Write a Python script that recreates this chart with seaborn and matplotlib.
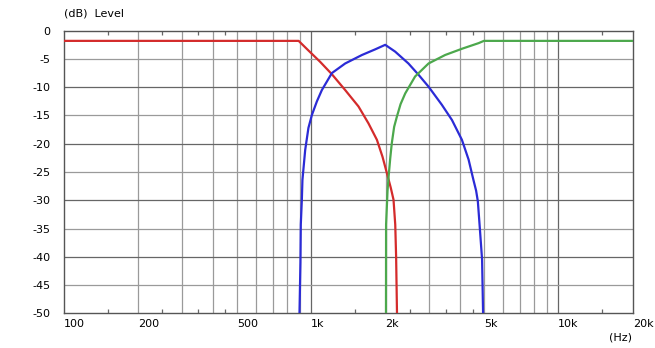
import matplotlib
matplotlib.use("Agg")
import matplotlib.pyplot as plt
import seaborn as sns
import pandas as pd

# ---- data ----
red_freq = [100, 890, 975, 1087, 1213, 1373, 1554, 1706, 1845, 1944, 2025, 2100, 2154, 2189, 2207, 2225]
red_db = [-1.8, -1.8, -3.5, -5.5, -7.7, -10.5, -13.4, -16.4, -19.3, -22.3, -25.2, -27.8, -29.9, -34.3, -40, -50]

blue_freq = [897, 905, 908, 917, 922, 946, 975, 1007, 1055, 1105, 1213, 1373, 1605, 1816, 1994,
             2187, 2475, 2720, 2985, 3378, 3713, 4073, 4335, 4535, 4650, 4726, 4802, 4870, 4916, 4962]
blue_db = [-50, -41, -34.3, -29.9, -26.4, -21.1, -17.2, -14.9, -12.5, -10.5, -7.5, -5.8, -4.3, -3.3, -2.5,
           -3.7, -5.8, -7.8, -9.9, -13.1, -15.8, -19.3, -22.8, -26.4, -28.3, -30.2, -34.3, -38, -40.5, -50]

green_freq = [2008, 2010, 2037, 2055, 2090, 2120, 2167, 2223, 2300, 2402, 2634, 2985, 3484, 4073, 4759, 5000, 20000]
green_db = [-50, -34.3, -28.4, -26.1, -22.5, -19.9, -17.0, -15.2, -13.0, -11.1, -8.1, -5.8, -4.3, -3.2, -2.2, -1.8, -1.8]

xtick_vals = [100, 200, 500, 1000, 2000, 5000, 10000, 20000]
xtick_labels = ["100", "200", "500", "1k", "2k", "5k", "10k", "20k"]
ytick_vals = [0, -5, -10, -15, -20, -25, -30, -35, -40, -45, -50]

grid_light_x = [200, 300, 400, 500, 600, 700, 800, 900,
                2000, 3000, 4000, 5000, 6000, 7000, 8000, 9000]
grid_dark_x = [1000, 10000]
minor_x = [150, 250, 350, 450, 1500, 2500, 3500, 4500, 15000]
grid_light_y = [-5, -15, -25, -35, -45]
grid_dark_y = [-10, -20, -30, -40]

sns.set_style("white")
plt.rcParams["font.family"] = ["DejaVu Sans"]

fig = plt.figure(figsize=(6.55, 3.48), dpi=100)
ax = fig.add_axes([64 / 655, 1 - 313.3 / 348, (632.7 - 64) / 655, (313.3 - 30.7) / 348])

ax.set_xscale("log")
ax.set_xlim(100, 20000)
ax.set_ylim(-50, 0)

light = "#9a9a9a"
dark = "#666666"
for x in grid_light_x:
    ax.axvline(x, color=light, lw=0.9, zorder=1)
for x in grid_dark_x:
    ax.axvline(x, color=dark, lw=0.9, zorder=1)
for y in grid_light_y:
    ax.axhline(y, color=light, lw=0.9, zorder=1)
for y in grid_dark_y:
    ax.axhline(y, color=dark, lw=0.9, zorder=1)

series = [
    (red_freq, red_db, "#d42b2b"),
    (blue_freq, blue_db, "#2b2bd6"),
    (green_freq, green_db, "#4ca84c"),
]
for f, d, c in series:
    df = pd.DataFrame({"freq": f, "db": d})
    sns.lineplot(data=df, x="freq", y="db", ax=ax, color=c, lw=1.6,
                 sort=False, estimator=None, zorder=3)

ax.set_xlabel("")
ax.set_ylabel("")

ax.set_xticks(xtick_vals)
ax.set_xticklabels(xtick_labels)
ax.set_xticks(minor_x, minor=True)
ax.set_xticklabels([""] * len(minor_x), minor=True)
ax.set_yticks(ytick_vals)
ax.set_yticklabels([str(v) for v in ytick_vals])

ax.tick_params(axis="x", which="major", length=0, pad=4, labelsize=8, colors="black")
ax.tick_params(axis="x", which="minor", direction="in", length=3, width=0.9,
               top=True, bottom=True, color=dark)
ax.tick_params(axis="y", which="major", length=0, pad=10, labelsize=8, colors="black")
for lab in ax.get_xticklabels():
    lab.set_horizontalalignment("left")

for s in ax.spines.values():
    s.set_visible(True)
    s.set_color("#555555")
    s.set_linewidth(1.0)

fig.text(64 / 655, 1 - 13 / 348, "(dB)  Level", fontsize=8, ha="left", va="center", color="black")
fig.text(632 / 655, 1 - 337 / 348, "(Hz)", fontsize=8, ha="right", va="center", color="black")

fig.savefig("out.png", dpi=100, facecolor="white")
